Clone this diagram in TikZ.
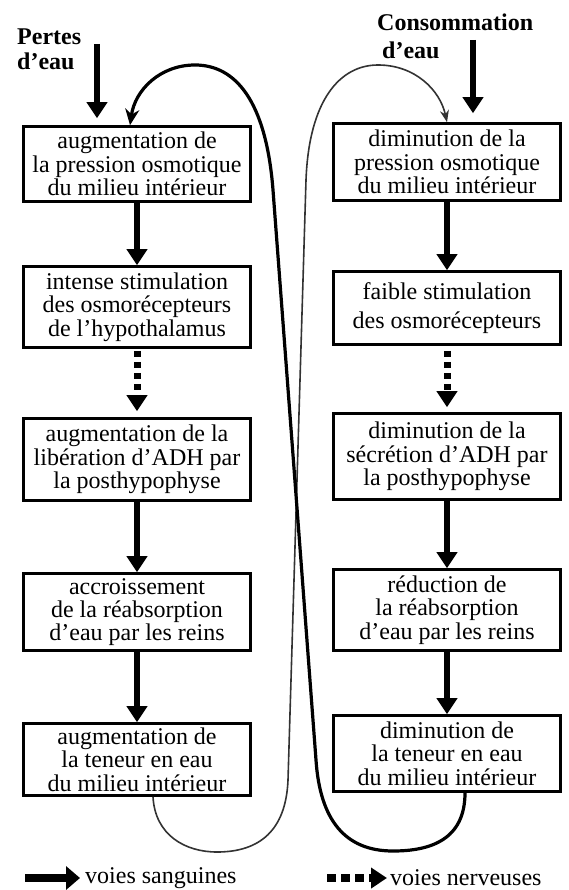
\documentclass[tikz,border=0pt]{standalone}
\usepackage{fontspec}
\setmainfont{Liberation Serif}
\usepackage{tikz}
\usetikzlibrary{arrows.meta, positioning}
\tikzset{
  etape/.style={draw=black,line width=2.6pt,inner sep=2pt,minimum width=227pt,align=center,font=\fontsize{24}{23.3}\selectfont},
  lblnode/.style={inner sep=0pt,align=left,font=\fontsize{24}{25}\selectfont\bfseries},
  legnode/.style={inner sep=0pt,font=\fontsize{24}{25}\selectfont},
  sangedge/.style={-{Triangle[length=16pt,width=20pt]},line width=6pt},
  nerfedge/.style={-{Triangle[length=16pt,width=20pt]},line width=7pt,dash pattern=on 6pt off 5pt},
  bouclefort/.style={-{Stealth[length=16pt,width=14pt]},line width=3.2pt},
  bouclefin/.style={-{Stealth[length=12pt,width=9pt]},line width=1.6pt,black!80},
}

\begin{document}
\begin{tikzpicture}[x=1pt,y=-1pt]
  \useasboundingbox (0,0) rectangle (568,890);
  % pertes d'eau
  \node[lblnode,anchor=north west] (pertes) at (17,29) {Pertes\\d'eau};
  \node[etape,minimum height=75pt] (l1) at (137,164) {augmentation de\\la pression osmotique\\du milieu intérieur};
  \node[etape,minimum height=81pt] (l2) at (137,307) {intense stimulation\\des osmorécepteurs\\de l'hypothalamus};
  \node[etape,minimum height=82pt] (l3) at (137,459.5) {augmentation de la\\libération d'ADH par\\la posthypophyse};
  \node[etape,minimum height=77pt] (l4) at (137,612) {accroissement\\de la réabsorption\\d'eau par les reins};
  \node[etape,minimum height=72pt] (l5) at (137,759.5) {augmentation de\\la teneur en eau\\du milieu intérieur};
  % consommation d'eau
  \node[lblnode,anchor=north west] (conso) at (377,14) {Consommation\\[3pt]\hspace*{5pt}d'eau};
  \node[etape,minimum height=77pt] (r1) at (447,162) {diminution de la\\pression osmotique\\du milieu intérieur};
  \node[etape,minimum height=73pt] (r2) at (447,308) {faible stimulation\\[6pt]des osmorécepteurs};
  \node[etape,minimum height=86pt] (r3) at (447,456.5) {diminution de la\\sécrétion d'ADH par\\la posthypophyse};
  \node[etape,minimum height=81pt] (r4) at (447,610) {réduction de\\la réabsorption\\d'eau par les reins};
  \node[etape,minimum height=76pt] (r5) at (447,753.5) {diminution de\\la teneur en eau\\du milieu intérieur};
  % legende
  \node[legnode,anchor=west] (txsang) at (85,878) {voies sanguines};
  \node[legnode,anchor=west] (txnerf) at (390,878) {voies nerveuses};
  \coordinate (pertesin) at (97,44);
  \coordinate (consoin) at (473,40);
  \coordinate (lgsang) at (25,878);
  \coordinate (lgnerf) at (327,878);

  \draw[sangedge,shorten >=7pt] (pertesin) -- (pertesin |- l1.north);
  \draw[sangedge,shorten >=9pt] (consoin) -- (consoin |- r1.north);
  \draw[sangedge] (l1) -- (l2);
  \draw[nerfedge,shorten <=2pt,shorten >=6pt] (l2) -- (l3);
  \draw[sangedge] (l3) -- (l4);
  \draw[sangedge] (l4) -- (l5);
  \draw[sangedge] (r1) -- (r2);
  \draw[nerfedge,shorten <=5pt,shorten >=5pt] (r2) -- (r3);
  \draw[sangedge] (r3) -- (r4);
  \draw[sangedge] (r4) -- (r5);

  % boucles de retour
  \draw[bouclefin] ([xshift=16pt]l5.south) .. controls (155,835) and (185,852) .. (217,852)
    .. controls (260,852) and (286,830) .. (288,780) -- (306,180)
    .. controls (309,100) and (340,65) .. (378,65)
    .. controls (415,65) and (440,90) .. (r1.north);
  \draw[bouclefort] ([xshift=18pt]r5.south) .. controls (465,840) and (430,851) .. (393,851)
    .. controls (345,851) and (320,820) .. (316,760) -- (273,190)
    .. controls (266,100) and (235,65) .. (195,65)
    .. controls (160,65) and (135,90) .. ([xshift=-7pt]l1.north);

  \draw[sangedge,line width=8pt,-{Triangle[length=14pt,width=23pt]},shorten >=5pt] (lgsang) -- (txsang.west);
  \draw[nerfedge,line width=8pt,dash pattern=on 9pt off 5pt,shorten >=3pt] (lgnerf) -- (txnerf.west);
\end{tikzpicture}
\end{document}
